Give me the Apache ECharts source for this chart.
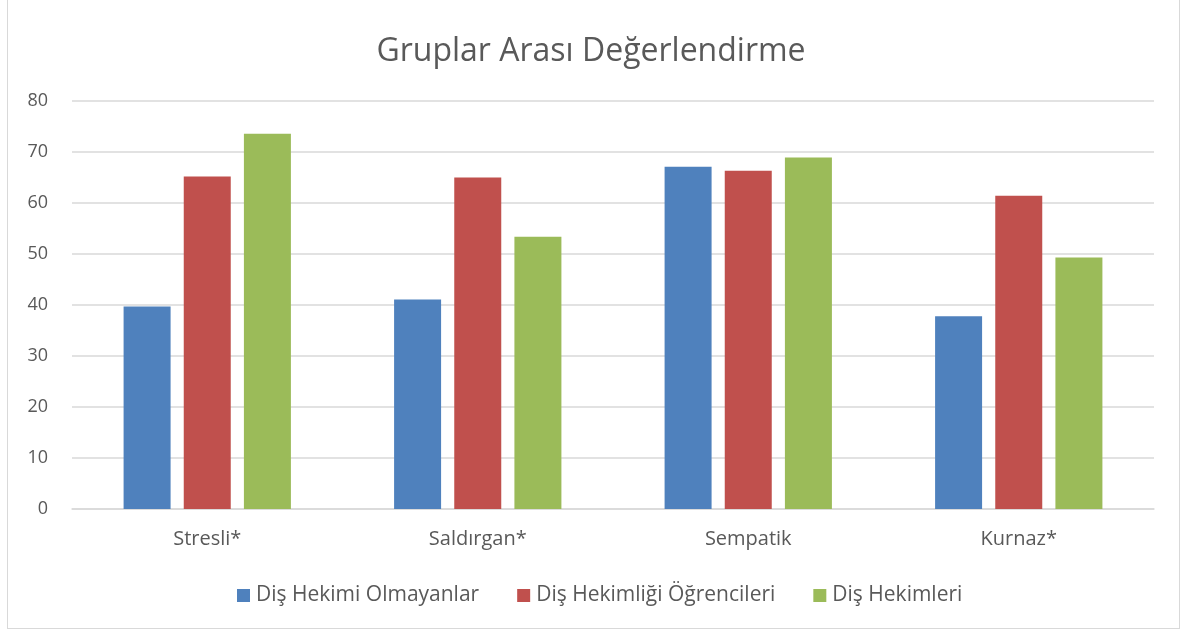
<!DOCTYPE html>
<html>
<head>
<meta charset="utf-8">
<script src="https://cdn.jsdelivr.net/npm/echarts@6/dist/echarts.min.js"></script>
<style>
  html, body { margin: 0; padding: 0; background: #fff; }
  #main { width: 1182px; height: 632px; }
  #frame { position: absolute; left: 7px; top: 0; width: 1173px; height: 629px; border: 1px solid #d9d9d9; border-top: none; box-sizing: border-box; pointer-events: none; }
</style>
</head>
<body>
<div id="main"></div>
<div id="frame"></div>
<script>
const chart = echarts.init(document.getElementById('main'))

const categories = ['Stresli*', 'Saldırgan*', 'Sempatik', 'Kurnaz*']
const seriesNames = ['Diş Hekimi Olmayanlar', 'Diş Hekimliği Öğrencileri', 'Diş Hekimleri']
const nonDentists = [39.7, 41.1, 67.1, 37.8]
const students = [65.2, 65.0, 66.3, 61.4]
const dentists = [73.6, 53.4, 68.9, 49.3]
const colors = ['#4f81bd', '#c0504d', '#9bbb59']

const font = 'Open Sans'
const textColor = '#595959'

let values = [nonDentists, students, dentists]
let series = values.map((data, i) => ({
  name: seriesNames[i],
  type: 'bar',
  data: data,
  barWidth: 47,
  barGap: '28%',
  itemStyle: { color: colors[i] }
}))

let option = {
  backgroundColor: '#fff',
  animation: false,
  title: {
    text: 'Gruplar Arası Değerlendirme',
    left: 'center',
    top: 31,
    textStyle: {
      color: textColor,
      fontFamily: font,
      fontSize: 32,
      fontWeight: 'normal'
    }
  },
  legend: {
    data: seriesNames,
    bottom: 21,
    left: 232,
    icon: 'rect',
    itemWidth: 13,
    itemHeight: 13,
    itemGap: 38,
    textStyle: { color: textColor, fontFamily: font, fontSize: 21, padding: [0, 0, 0, 1] }
  },
  grid: {
    left: 72,
    right: 28,
    top: 101,
    bottom: 123
  },
  xAxis: {
    type: 'category',
    data: categories,
    axisLine: { lineStyle: { color: '#d9d9d9', width: 1.5 } },
    axisTick: { show: false },
    axisLabel: { color: textColor, fontFamily: font, fontSize: 20, margin: 20 }
  },
  yAxis: {
    type: 'value',
    min: 0,
    max: 80,
    interval: 10,
    axisLine: { show: false },
    axisTick: { show: false },
    splitLine: { lineStyle: { color: '#d9d9d9', width: 1.5 } },
    axisLabel: { color: textColor, fontFamily: font, fontSize: 18, margin: 24 }
  },
  series: series
}
chart.setOption(option)
</script>
</body>
</html>
